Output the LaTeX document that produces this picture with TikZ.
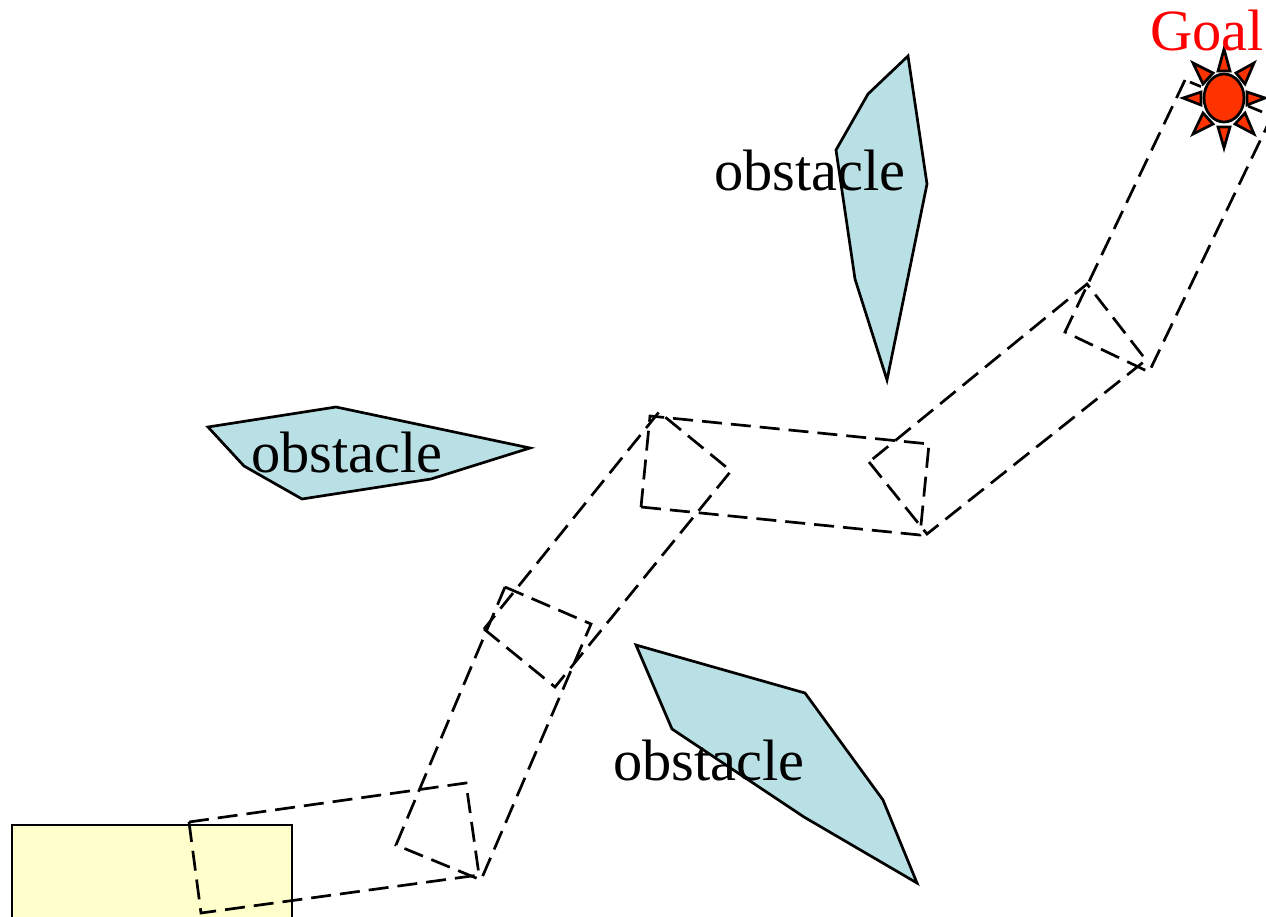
\documentclass[tikz,border=0pt]{standalone}
\usepackage{fontspec}
\setmainfont{Liberation Serif}
\definecolor{obstaclefill}{HTML}{B9E0E4}
\definecolor{startfill}{HTML}{FFFFCC}
\definecolor{sunfill}{HTML}{FF3300}
\begin{document}
\begin{tikzpicture}[
    x=1pt, y=-1pt,
    every node/.style={font=\fontsize{58.4}{60}\selectfont, inner sep=0pt, anchor=base},
    outline/.style={draw, line width=2.7pt, line join=miter},
    obstacle/.style={outline, fill=obstaclefill},
    start/.style={outline, fill=startfill},
    link/.style={draw, line width=2.7pt, dash pattern=on 20pt off 9pt},
    ray/.style={outline, fill=sunfill},
    sun/.style={draw, line width=2.7pt, fill=sunfill}
]
\clip (0,0) rectangle (1266,916);
% start position
\draw[start] (12,825) rectangle (292,930);
% swept links
\draw[link] (189,822) -- (466,783) -- (479,875) -- (201,913) -- cycle;
\draw[link] (505,587) -- (591,624) -- (481,880) -- (396,845) -- cycle;
\draw[link] (484,629) -- (555,687) -- (731,471) -- (659,412) -- cycle;
\draw[link] (641,507) -- (920,535) -- (929,444) -- (650,416) -- cycle;
\draw[link] (869,462) -- (927,534) -- (1146,360) -- (1087,284) -- cycle;
\draw[link] (1185,80) -- (1065,332) -- (1149,372) -- (1272,116) -- cycle;
% obstacles
\draw[obstacle] (908,56) -- (868,94) -- (836,150) -- (855,279) -- (887,380) -- (927,184) -- cycle;
\draw[obstacle] (208,427) -- (336,407) -- (530,448) -- (431,479) -- (302,499) -- (244,466) -- cycle;
\draw[obstacle] (636,645) -- (805,693) -- (883,800) -- (917,883) -- (804,817) -- (672,729) -- cycle;
\node (obstacletop) at (810,190) {obstacle};
\node (obstacleleft) at (347,472) {obstacle};
\node (obstaclebottom) at (709,780) {obstacle};
% goal
\fill[white] (1224,98) ellipse (25 and 29);
\draw[ray] (1224,49) -- (1230,71) -- (1218,71) -- cycle;
\draw[ray] (1224,148) -- (1230,127) -- (1218,127) -- cycle;
\draw[ray] (1183,98) -- (1201,92) -- (1201,105) -- cycle;
\draw[ray] (1265,98) -- (1247,92) -- (1247,105) -- cycle;
\draw[ray] (1254,63) -- (1236,73) -- (1245,84) -- cycle;
\draw[ray] (1193,63) -- (1213,73) -- (1203,84) -- cycle;
\draw[ray] (1254,134) -- (1245,113) -- (1235,124) -- cycle;
\draw[ray] (1193,134) -- (1203,113) -- (1213,124) -- cycle;
\draw[sun] (1224,98) ellipse (20 and 24);
\node[text=red] (goal) at (1207,50) {Goal};
\end{tikzpicture}
\end{document}
